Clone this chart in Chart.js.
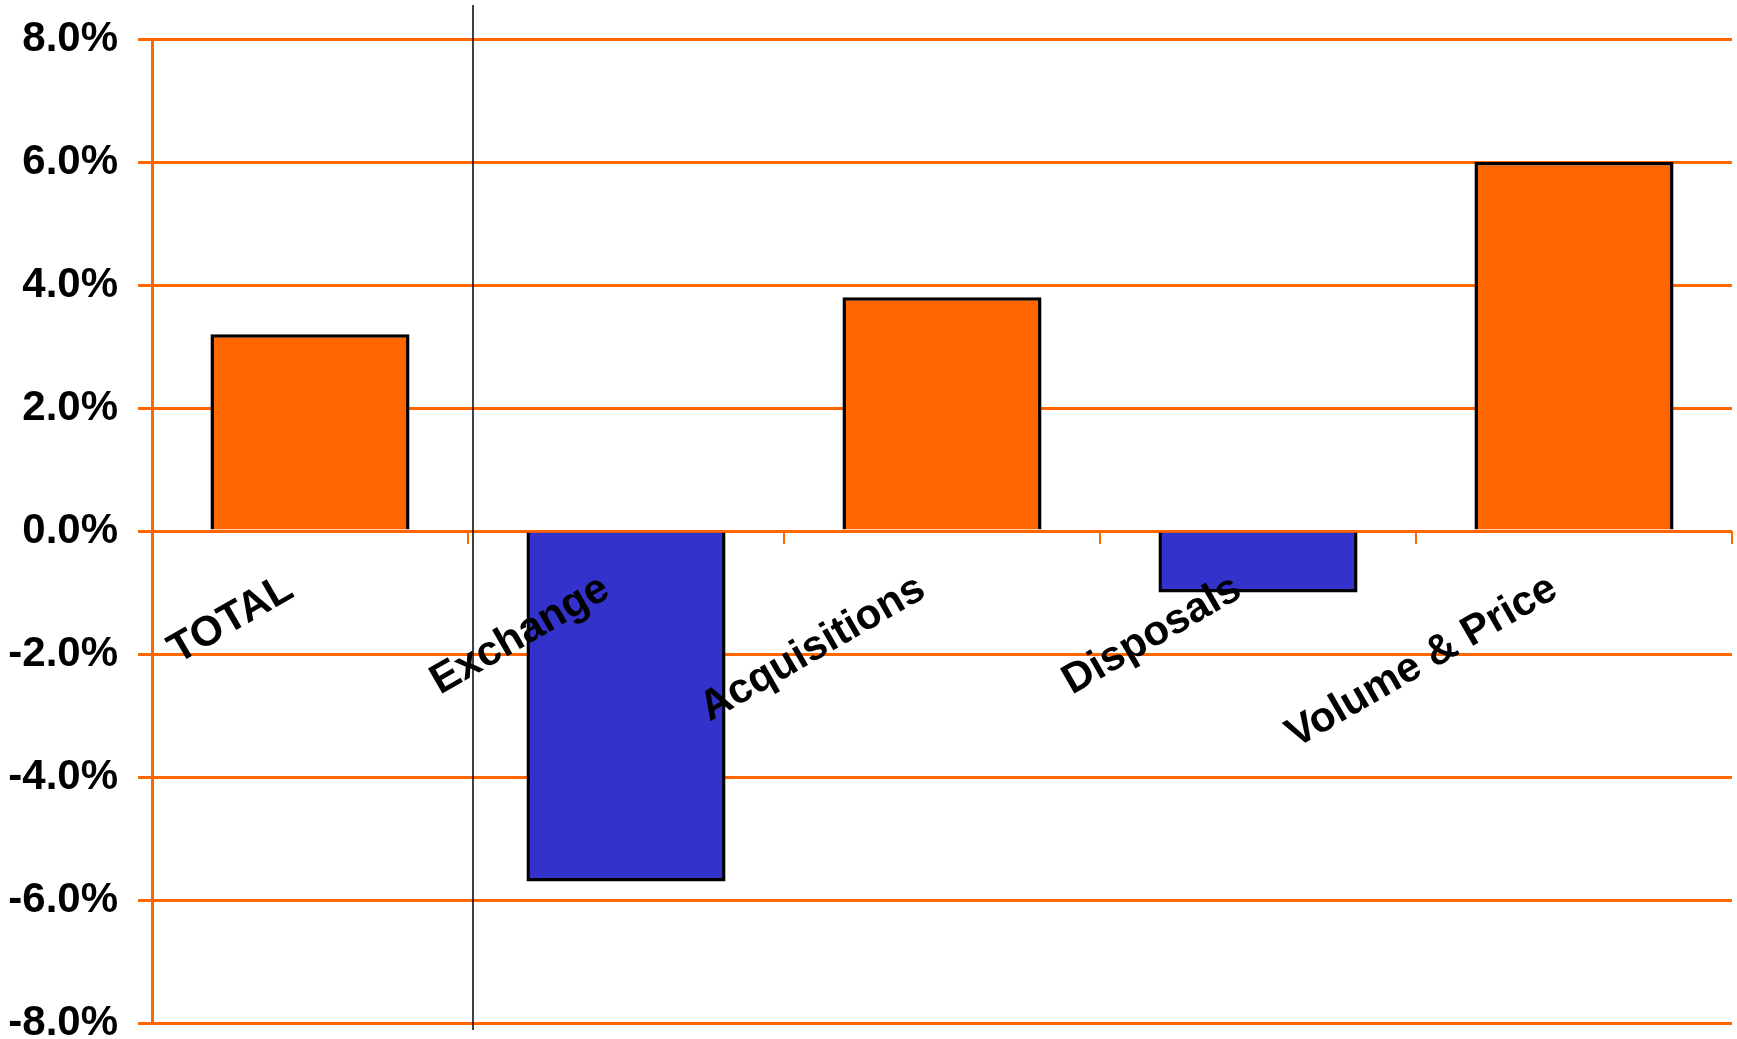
<!DOCTYPE html>
<html>
<head>
<meta charset="utf-8">
<script src="https://cdn.jsdelivr.net/npm/chart.js@4"></script>
<style>
  html, body { margin: 0; padding: 0; background: #fff; }
  #wrap { width: 1737px; height: 1039px; }
</style>
</head>
<body>
<div id="wrap"><canvas id="growthChart" width="1737" height="1039"></canvas></div>
<script>
// categories and values
const categories = ["TOTAL", "Exchange", "Acquisitions", "Disposals", "Volume & Price"];
const changePct = [3.2, -5.7, 3.8, -1.0, 6.0];
const yTicks = [-8, -6, -4, -2, 0, 2, 4, 6, 8];

const ORANGE = '#FF6600';
const BLUE = '#3333CC';
const FONT = 'Liberation Sans, Arial, sans-serif';

// thin black divider between TOTAL and the components
const dividerPlugin = {
    id: 'divider',
    afterDraw(chart) {
        const x = chart.scales.x;
        const area = chart.chartArea;
        const px = (x.getPixelForValue(0) + x.getPixelForValue(1)) / 2 + 5;
        const c = chart.ctx;
        c.save();
        c.strokeStyle = '#000';
        c.lineWidth = 1.5;
        c.beginPath();
        c.moveTo(px, area.top - 34);
        c.lineTo(px, area.bottom + 7);
        c.stroke();
        c.restore();
    }
};

const ctx = document.getElementById('growthChart').getContext('2d');
new Chart(ctx, {
    type: 'bar',
    data: {
        labels: categories,
        datasets: [{
            data: changePct,
            backgroundColor: changePct.map(v => v < 0 ? BLUE : ORANGE),
            borderColor: '#000',
            borderWidth: 3.5,
            categoryPercentage: 1.0,
            barPercentage: 0.63
        }]
    },
    options: {
        responsive: false,
        animation: false,
        layout: { padding: { top: 39, right: 5, left: 0, bottom: 16 } },
        plugins: {
            legend: { display: false },
            tooltip: { enabled: false }
        },
        scales: {
            x: {
                position: { y: 0 },
                afterFit(scale) {
                    scale.paddingLeft = 0;
                    scale.paddingRight = 0;
                    scale.paddingTop = 0;
                    scale.paddingBottom = 0;
                },
                grid: {
                    offset: true,
                    drawOnChartArea: false,
                    drawTicks: true,
                    tickLength: 13,
                    color: ORANGE,
                    lineWidth: 2
                },
                border: { display: false },
                ticks: {
                    z: 1,
                    minRotation: 30,
                    maxRotation: 30,
                    autoSkip: false,
                    padding: 20,
                    labelOffset: -20,
                    color: '#000',
                    font: { family: FONT, size: 42, weight: 'bold' }
                }
            },
            y: {
                min: -8,
                max: 8,
                afterBuildTicks(axis) {
                    axis.ticks = yTicks.map(v => ({ value: v }));
                },
                afterFit(scale) {
                    scale.width = 152;
                    scale.paddingTop = 0;
                    scale.paddingBottom = 0;
                },
                grid: {
                    color: ORANGE,
                    lineWidth: 3,
                    tickLength: 14
                },
                border: { display: true, color: ORANGE, width: 3 },
                ticks: {
                    padding: 20,
                    color: '#000',
                    font: { family: FONT, size: 42, weight: 'bold' },
                    callback: v => v.toFixed(1) + '%'
                }
            }
        }
    },
    plugins: [dividerPlugin]
});
</script>
</body>
</html>
